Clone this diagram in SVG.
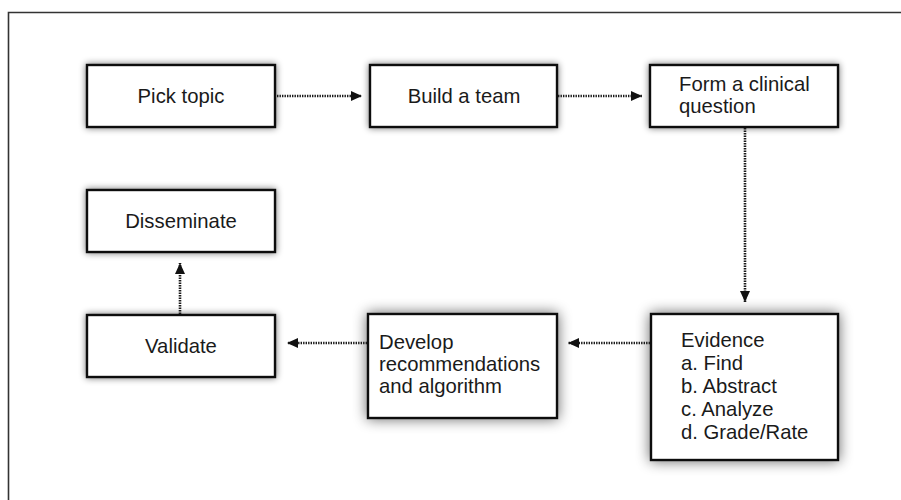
<svg xmlns="http://www.w3.org/2000/svg" width="901" height="500" viewBox="0 0 901 500">
<defs>
<filter id="sh" x="-20%" y="-40%" width="140%" height="180%">
<feGaussianBlur in="SourceAlpha" stdDeviation="3.5"/>
<feComponentTransfer><feFuncA type="linear" slope="0.55"/></feComponentTransfer>
<feMerge><feMergeNode/><feMergeNode in="SourceGraphic"/></feMerge>
</filter>
<filter id="sh2" x="-30%" y="-30%" width="160%" height="160%">
<feGaussianBlur in="SourceAlpha" stdDeviation="7"/>
<feComponentTransfer><feFuncA type="linear" slope="0.6"/></feComponentTransfer>
<feMerge><feMergeNode/><feMergeNode in="SourceGraphic"/></feMerge>
</filter>
<marker id="ah" markerWidth="11" markerHeight="10" refX="11" refY="5" orient="auto" markerUnits="userSpaceOnUse">
<path d="M0,0 L11,5 L0,10 Z" fill="#111"/>
</marker>
<style>
.box{fill:#fff;stroke:#111;stroke-width:2.4}
.t{font-family:"Liberation Sans",Arial,sans-serif;font-size:20.3px;fill:#1a1a1a}
.c{stroke:#1a1a1a;stroke-width:2.6;stroke-dasharray:1.4 1.1;fill:none}
</style>
</defs>
<rect width="901" height="500" fill="#fff"/>
<path d="M8.5,500 V12.5 H901" fill="none" stroke="#333" stroke-width="1.6"/>

<g id="pick-topic">
<rect class="box" x="87" y="65" width="188" height="62" filter="url(#sh)"/>
<text class="t" x="181" y="103" text-anchor="middle">Pick topic</text>
</g>
<g id="build-team">
<rect class="box" x="370" y="65" width="187" height="62" filter="url(#sh)"/>
<text class="t" x="464" y="103" text-anchor="middle">Build a team</text>
</g>
<g id="form-question">
<rect class="box" x="650" y="65" width="188" height="62" filter="url(#sh)"/>
<text class="t" x="679" y="91">Form a clinical</text>
<text class="t" x="679" y="113">question</text>
</g>
<g id="evidence">
<rect class="box" x="651" y="314" width="187" height="146" filter="url(#sh2)"/>
<text class="t" x="681" y="347">Evidence</text>
<text class="t" x="681" y="370">a. Find</text>
<text class="t" x="681" y="393">b. Abstract</text>
<text class="t" x="681" y="416">c. Analyze</text>
<text class="t" x="681" y="439">d. Grade/Rate</text>
</g>
<g id="develop">
<rect class="box" x="368" y="314" width="189" height="104" filter="url(#sh2)"/>
<text class="t" x="379" y="349">Develop</text>
<text class="t" x="379" y="371">recommendations</text>
<text class="t" x="379" y="393">and algorithm</text>
</g>
<g id="validate">
<rect class="box" x="87" y="315" width="188" height="62" filter="url(#sh)"/>
<text class="t" x="181" y="353" text-anchor="middle">Validate</text>
</g>
<g id="disseminate">
<rect class="box" x="87" y="190" width="188" height="62" filter="url(#sh)"/>
<text class="t" x="181" y="228" text-anchor="middle">Disseminate</text>
</g>

<g id="connectors">
<line class="c" x1="277" y1="96" x2="362" y2="96" marker-end="url(#ah)"/>
<line class="c" x1="558" y1="96" x2="642" y2="96" marker-end="url(#ah)"/>
<line class="c" x1="745" y1="128" x2="745" y2="302" marker-end="url(#ah)"/>
<line class="c" x1="650" y1="343" x2="568" y2="343" marker-end="url(#ah)"/>
<line class="c" x1="367" y1="343" x2="287" y2="343" marker-end="url(#ah)"/>
<line class="c" x1="180" y1="314" x2="180" y2="263" marker-end="url(#ah)"/>
</g>
</svg>
